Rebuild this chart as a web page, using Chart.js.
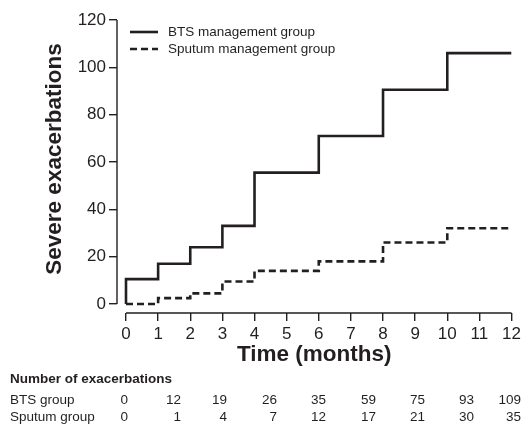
<!DOCTYPE html>
<html>
<head>
<meta charset="utf-8">
<script src="https://cdn.jsdelivr.net/npm/chart.js@4.4.1/dist/chart.umd.min.js"></script>
<style>
    html, body { margin: 0; padding: 0; background: #fff; }
    #wrap { position: relative; width: 524px; height: 426px; font-family: "Liberation Sans", Arial, sans-serif; color: #231f20; }
    #wrap canvas { position: absolute; left: 0; top: 0; }
    .txt { position: absolute; font-size: 13.5px; line-height: 16px; white-space: nowrap; }
    .num { text-align: right; width: 40px; }
</style>
</head>
<body>
<div id="wrap">
    <canvas id="chart" width="524" height="426"></canvas>
</div>
<script>
// cumulative severe exacerbations
const months = [0, 1, 2, 3, 4, 6, 8, 10, 12];
const btsCurve = [0, 10.5, 17, 24, 33, 55.5, 71, 90.5, 106];
const sputumCurve = [0, 0, 2.5, 4.5, 9.5, 14, 18, 26, 32];

const xTicks = [0, 1, 2, 3, 4, 5, 6, 7, 8, 9, 10, 11, 12];
const yTicks = [0, 20, 40, 60, 80, 100, 120];

// table under the chart
const tableTitle = 'Number of exacerbations';
const rowLabels = ['BTS group', 'Sputum group'];
const btsCounts = [0, 12, 19, 26, 35, 59, 75, 93, 109];
const sputumCounts = [0, 1, 4, 7, 12, 17, 21, 30, 35];

const ink = '#231f20';
const FONT = '"Liberation Sans", Arial, sans-serif';

// table as plain text
const wrap = document.getElementById('wrap');
const colRight = [128, 181, 227, 277, 326, 376, 425, 474, 521];

function addText(text, left, centerY, cls, bold) {
    const d = document.createElement('div');
    d.className = 'txt ' + (cls || '');
    d.textContent = text;
    d.style.top = (centerY - 8) + 'px';
    d.style.left = left + 'px';
    if (bold) d.style.fontWeight = 'bold';
    wrap.appendChild(d);
}

addText(tableTitle, 10, 379, '', true);
[btsCounts, sputumCounts].forEach((row, r) => {
    const cy = r === 0 ? 400 : 417;
    addText(rowLabels[r], 10, cy);
    row.forEach((v, i) => addText(String(v), colRight[i] - 40, cy, 'num'));
});

// axis lines only span the tick range, like the original
const axisLines = {
    id: 'axisLines',
    afterDraw(chart) {
        const ctx = chart.ctx;
        const x = chart.scales.x, y = chart.scales.y;
        const area = chart.chartArea;
        ctx.save();
        ctx.strokeStyle = ink;
        ctx.lineWidth = 1.4;
        ctx.beginPath();
        ctx.moveTo(area.left, y.getPixelForValue(120));
        ctx.lineTo(area.left, y.getPixelForValue(0));
        ctx.moveTo(x.getPixelForValue(0), area.bottom);
        ctx.lineTo(x.getPixelForValue(12), area.bottom);
        ctx.stroke();

        // y title
        ctx.fillStyle = ink;
        ctx.font = 'bold 22.5px ' + FONT;
        ctx.textAlign = 'center';
        ctx.textBaseline = 'middle';
        ctx.translate(55, 159);
        ctx.rotate(-Math.PI / 2);
        ctx.fillText('Severe exacerbations', 0, 0);
        ctx.restore();

        // legend
        ctx.save();
        ctx.font = '13.5px ' + FONT;
        ctx.textBaseline = 'middle';
        chart.data.datasets.forEach((ds, i) => {
            const ly = 32 + i * 17;
            ctx.strokeStyle = ds.borderColor;
            ctx.lineWidth = ds.borderWidth;
            ctx.setLineDash(ds.borderDash || []);
            ctx.beginPath();
            ctx.moveTo(130, ly);
            ctx.lineTo(158, ly);
            ctx.stroke();
            ctx.fillStyle = ink;
            ctx.fillText(ds.label, 168, ly);
        });
        ctx.restore();
    }
};

const ctx = document.getElementById('chart').getContext('2d');
new Chart(ctx, {
    type: 'line',
    data: {
        datasets: [
            {
                label: 'BTS management group',
                data: months.map((m, i) => ({x: m, y: btsCurve[i]})),
                borderColor: ink,
                borderWidth: 2.6,
                stepped: 'after',
                pointRadius: 0,
                fill: false
            },
            {
                label: 'Sputum management group',
                data: months.map((m, i) => ({x: m, y: sputumCurve[i]})),
                borderColor: ink,
                borderWidth: 2.6,
                borderDash: [7, 4],
                stepped: 'after',
                pointRadius: 0,
                fill: false
            }
        ]
    },
    options: {
        responsive: false,
        animation: false,
        layout: { padding: { left: 0, top: 20, right: 12, bottom: 0 } },
        plugins: { legend: { display: false }, tooltip: { enabled: false } },
        scales: {
            x: {
                type: 'linear',
                min: -0.28,
                max: 12,
                afterBuildTicks: s => { s.ticks = xTicks.map(v => ({value: v})); },
                afterFit: s => { s.height = 113; },
                border: { display: false },
                grid: { drawOnChartArea: false, drawTicks: true, tickLength: 8, color: ink, lineWidth: 1.4 },
                ticks: { color: ink, font: { family: FONT, size: 17 }, padding: 3, maxRotation: 0, autoSkip: false },
                title: {
                    display: true,
                    text: 'Time (months)',
                    color: ink,
                    font: { family: FONT, size: 22.5, weight: 'bold' },
                    padding: { top: 0, bottom: 58 }
                }
            },
            y: {
                min: -3.8,
                max: 120,
                afterBuildTicks: s => { s.ticks = yTicks.map(v => ({value: v})); },
                afterFit: s => { s.width = 117; },
                border: { display: false },
                grid: { drawOnChartArea: false, drawTicks: true, tickLength: 8, color: ink, lineWidth: 1.4 },
                ticks: { color: ink, font: { family: FONT, size: 17 }, padding: 3 }
            }
        }
    },
    plugins: [axisLines]
});
</script>
</body>
</html>
